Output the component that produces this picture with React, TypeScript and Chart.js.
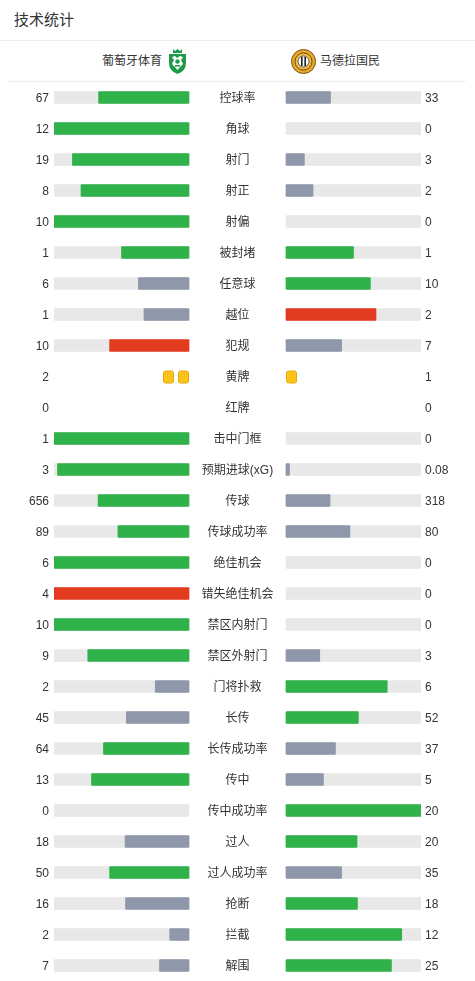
import React, { useEffect, useRef } from "react";
import { Chart, registerables } from "chart.js";

Chart.register(...registerables);

const homeTeam = "葡萄牙体育";
const awayTeam = "马德拉国民";
const title = "技术统计";

const statLabels = [
  "控球率", "角球", "射门", "射正", "射偏", "被封堵", "任意球", "越位", "犯规", "黄牌",
  "红牌", "击中门框", "预期进球(xG)", "传球", "传球成功率", "绝佳机会", "错失绝佳机会",
  "禁区内射门", "禁区外射门", "门将扑救", "长传", "长传成功率", "传中", "传中成功率",
  "过人", "过人成功率", "抢断", "拦截", "解围",
];
const homeValues = [
  67, 12, 19, 8, 10, 1, 6, 1, 10, 2,
  0, 1, 3, 656, 89, 6, 4,
  10, 9, 2, 45, 64, 13, 0,
  18, 50, 16, 2, 7,
];
const awayValues = [
  33, 0, 3, 2, 0, 1, 10, 2, 7, 1,
  0, 0, 0.08, 318, 80, 0, 0,
  0, 3, 6, 52, 37, 5, 20,
  20, 35, 18, 12, 25,
];
const lowerIsBetter = ["越位", "犯规", "错失绝佳机会"];
const cardStats = ["黄牌", "红牌"];

const GREEN = "#2fb24a";
const GRAY = "#8e98aa";
const RED = "#e23b1f";
const TRACK = "#e8e8e8";
const HALF_GAP = 48.5 / 135; // centre gap in track-width units

function colorsFor(h: number, a: number, neg: boolean): [string, string] {
  if (neg) {
    if (h > a) return [RED, GRAY];
    if (a > h) return [GRAY, RED];
    return [GRAY, GRAY];
  }
  if (h > a) return [GREEN, GRAY];
  if (a > h) return [GRAY, GREEN];
  return [GREEN, GREEN];
}

const FONT = '"Liberation Sans", "Noto Sans CJK SC", sans-serif';

function App() {
  const canvasRef = useRef<HTMLCanvasElement | null>(null);

  useEffect(() => {
    const g = HALF_GAP;
    const leftTrack: any[] = [];
    const rightTrack: any[] = [];
    const leftBar: any[] = [];
    const rightBar: any[] = [];
    const leftColors: string[] = [];
    const rightColors: string[] = [];
    statLabels.forEach((lab, i) => {
      const h = homeValues[i];
      const a = awayValues[i];
      const isCard = cardStats.includes(lab);
      leftTrack.push(isCard ? null : [-1 - g, -g]);
      rightTrack.push(isCard ? null : [g, 1 + g]);
      const sum = h + a;
      const [lc, rc] = colorsFor(h, a, lowerIsBetter.includes(lab));
      leftColors.push(lc);
      rightColors.push(rc);
      if (isCard || sum === 0) {
        leftBar.push(null);
        rightBar.push(null);
      } else {
        leftBar.push(h > 0 ? [-g - h / sum, -g] : null);
        rightBar.push(a > 0 ? [g, g + a / sum] : null);
      }
    });

    const textPlugin = {
      id: "statText",
      afterDatasetsDraw(chart: any) {
        const ctx = chart.ctx;
        const xs = chart.scales.x;
        const ys = chart.scales.y;
        ctx.save();
        ctx.textBaseline = "middle";
        statLabels.forEach((lab, i) => {
          const yc = ys.getPixelForValue(i);
          const y = yc + 1;
          ctx.fillStyle = "#333";
          ctx.font = `12px ${FONT}`;
          ctx.textAlign = "right";
          ctx.fillText(String(homeValues[i]), xs.getPixelForValue(-1 - g) - 5, y);
          ctx.textAlign = "left";
          ctx.fillText(String(awayValues[i]), xs.getPixelForValue(1 + g) + 4, y);
          ctx.textAlign = "center";
          ctx.fillStyle = "#333";
          ctx.fillText(lab, xs.getPixelForValue(0), y);
          if (lab === "黄牌") {
            const cw = 11, ch = 13, gap = 4;
            const drawCard = (x: number) => {
              ctx.beginPath();
              ctx.fillStyle = "#fcc419";
              ctx.strokeStyle = "#e8a70c";
              ctx.lineWidth = 1;
              (ctx as any).roundRect(x + 0.5, yc - ch / 2 + 1, cw - 1, ch - 1, 2);
              ctx.fill();
              ctx.stroke();
            };
            const lEdge = xs.getPixelForValue(-g);
            for (let k = 0; k < homeValues[i]; k++) drawCard(lEdge - cw - k * (cw + gap));
            const rEdge = xs.getPixelForValue(g);
            for (let k = 0; k < awayValues[i]; k++) drawCard(rEdge + k * (cw + gap));
          }
        });
        ctx.restore();
      },
    };

    const common = { barThickness: 12, grouped: false, borderRadius: 1, borderSkipped: false };
    const chart = new Chart(canvasRef.current as HTMLCanvasElement, {
      type: "bar",
      data: {
        labels: statLabels,
        datasets: [
          { label: "home", data: leftBar, backgroundColor: leftColors, order: 1, ...common } as any,
          { label: "away", data: rightBar, backgroundColor: rightColors, order: 1, ...common } as any,
          { label: "homeTrack", data: leftTrack, backgroundColor: TRACK, order: 2, ...common } as any,
          { label: "awayTrack", data: rightTrack, backgroundColor: TRACK, order: 2, ...common } as any,
        ],
      },
      options: {
        indexAxis: "y",
        animation: false,
        responsive: false,
        maintainAspectRatio: false,
        layout: { padding: { left: 54, right: 54, top: 1, bottom: 0 } },
        plugins: { legend: { display: false }, tooltip: { enabled: false } },
        scales: {
          x: { type: "linear", min: -1 - HALF_GAP, max: 1 + HALF_GAP, display: false },
          y: { type: "category", display: false, offset: true, grid: { display: false } },
        },
      },
      plugins: [textPlugin],
    });
    return () => chart.destroy();
  }, []);

  return (
    <div
      style={{
        position: "absolute",
        left: 0,
        top: 0,
        width: 475,
        height: 981,
        background: "#fff",
        fontFamily: FONT,
        color: "#333",
        overflow: "hidden",
      }}
    >
      <div style={{ position: "absolute", left: 14, top: 9, fontSize: 15, lineHeight: "22px", color: "#333" }}>
        {title}
      </div>
      <div style={{ position: "absolute", left: 0, top: 40, width: 475, height: 1, background: "#eeeeee" }} />
      <div
        style={{
          position: "absolute",
          right: 475 - 162,
          top: 52,
          fontSize: 12,
          lineHeight: "18px",
          whiteSpace: "nowrap",
        }}
      >
        {homeTeam}
      </div>
      <svg style={{ position: "absolute", left: 167, top: 48 }} width="21" height="27" viewBox="0 0 21 27">
        <path d="M6 1 L8 3 L10.5 1 L13 3 L15 1 L15 5 L6 5 Z" fill="#1f9a4a" />
        <path d="M2 6 L19 6 L19 15 Q19 23 10.5 26 Q2 23 2 15 Z" fill="#1f9a4a" />
        <path d="M5 9 L8 8 L10 10 L13 8 L16 9 L14 12 L16 16 L13 19 L10.5 22 L8 19 L5 16 L7 12 Z" fill="#ffffff" />
        <circle cx="10.5" cy="13.5" r="2.2" fill="#1f9a4a" />
        <rect x="8" y="17" width="5" height="1.5" fill="#1f9a4a" />
      </svg>
      <svg style={{ position: "absolute", left: 291, top: 49 }} width="25" height="25" viewBox="0 0 25 25">
        <circle cx="12.5" cy="12.5" r="12" fill="#e9a825" stroke="#7a4f12" strokeWidth="1" />
        <circle cx="12.5" cy="12.5" r="8.5" fill="#f2c04a" stroke="#6b4410" strokeWidth="1" />
        <circle cx="12.5" cy="12.5" r="5.5" fill="#ffffff" stroke="#333" strokeWidth="0.8" />
        <rect x="10" y="8" width="1.6" height="9" fill="#222" />
        <rect x="13.4" y="8" width="1.6" height="9" fill="#222" />
      </svg>
      <div
        style={{
          position: "absolute",
          left: 320,
          top: 52,
          fontSize: 12,
          lineHeight: "18px",
          whiteSpace: "nowrap",
        }}
      >
        {awayTeam}
      </div>
      <div style={{ position: "absolute", left: 8, top: 81, width: 458, height: 1, background: "#eeeeee" }} />
      <canvas
        ref={canvasRef}
        width={475}
        height={900}
        style={{ position: "absolute", left: 0, top: 81, width: 475, height: 900 }}
      />
    </div>
  );
}

export default App;
